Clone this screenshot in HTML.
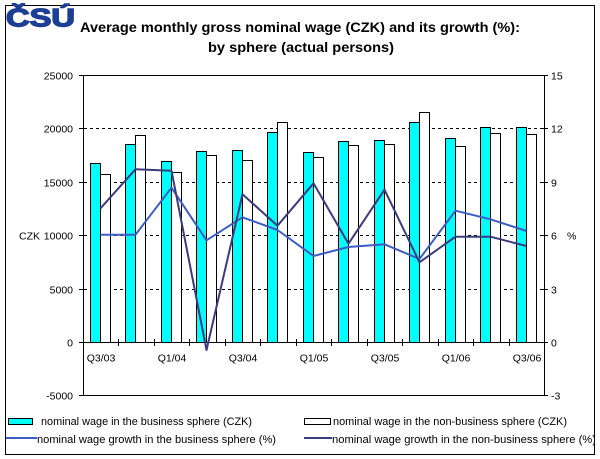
<!DOCTYPE html>
<html><head><meta charset="utf-8"><style>
html,body{margin:0;padding:0;background:#fff;}
svg{display:block;}
text{font-family:"Liberation Sans",Arial,sans-serif;}
</style></head><body>
<svg width="600" height="459" viewBox="0 0 600 459" xmlns="http://www.w3.org/2000/svg">
<rect x="0" y="0" width="600" height="459" fill="#fff"/>
<rect x="5.5" y="5.5" width="589" height="449" fill="none" stroke="#000" stroke-width="1"/>
<!-- logo -->
<text x="6" y="26.5" font-size="25" font-weight="bold" fill="#1c3f94" stroke="#1c3f94" stroke-width="1.4" textLength="69" lengthAdjust="spacingAndGlyphs">ČSÚ</text>
<!-- title -->
<text x="300" y="32" font-size="14" font-weight="bold" text-anchor="middle" textLength="440" lengthAdjust="spacingAndGlyphs">Average monthly gross nominal wage (CZK) and its growth (%):</text>
<text x="301" y="52" font-size="14" font-weight="bold" text-anchor="middle" textLength="186" lengthAdjust="spacingAndGlyphs">by sphere (actual persons)</text>
<!-- grid -->
<g stroke="#000" stroke-width="1" stroke-dasharray="3,3">
<line x1="84" y1="128.5" x2="544" y2="128.5"/>
<line x1="84" y1="182.5" x2="544" y2="182.5"/>
<line x1="84" y1="235.5" x2="544" y2="235.5"/>
<line x1="84" y1="289.5" x2="544" y2="289.5"/>
</g>
<!-- bars -->
<g stroke="#000" stroke-width="1">
<rect x="90.5" y="163.5" width="10" height="179" fill="#00ffff"/>
<rect x="100.5" y="174.5" width="10" height="168" fill="#fff"/>
<rect x="125.5" y="144.5" width="10" height="198" fill="#00ffff"/>
<rect x="135.5" y="135.5" width="10" height="207" fill="#fff"/>
<rect x="161.5" y="161.5" width="10" height="181" fill="#00ffff"/>
<rect x="171.5" y="172.5" width="10" height="170" fill="#fff"/>
<rect x="196.5" y="151.5" width="10" height="191" fill="#00ffff"/>
<rect x="206.5" y="155.5" width="10" height="187" fill="#fff"/>
<rect x="232.5" y="150.5" width="10" height="192" fill="#00ffff"/>
<rect x="242.5" y="160.5" width="10" height="182" fill="#fff"/>
<rect x="267.5" y="132.5" width="10" height="210" fill="#00ffff"/>
<rect x="277.5" y="122.5" width="10" height="220" fill="#fff"/>
<rect x="303.5" y="152.5" width="10" height="190" fill="#00ffff"/>
<rect x="313.5" y="157.5" width="10" height="185" fill="#fff"/>
<rect x="338.5" y="141.5" width="10" height="201" fill="#00ffff"/>
<rect x="348.5" y="145.5" width="10" height="197" fill="#fff"/>
<rect x="374.5" y="140.5" width="10" height="202" fill="#00ffff"/>
<rect x="384.5" y="144.5" width="10" height="198" fill="#fff"/>
<rect x="409.5" y="122.5" width="10" height="220" fill="#00ffff"/>
<rect x="419.5" y="112.5" width="10" height="230" fill="#fff"/>
<rect x="445.5" y="138.5" width="10" height="204" fill="#00ffff"/>
<rect x="455.5" y="146.5" width="10" height="196" fill="#fff"/>
<rect x="480.5" y="127.5" width="10" height="215" fill="#00ffff"/>
<rect x="490.5" y="133.5" width="10" height="209" fill="#fff"/>
<rect x="516.5" y="127.5" width="10" height="215" fill="#00ffff"/>
<rect x="526.5" y="134.5" width="10" height="208" fill="#fff"/>
</g>
<!-- axes -->
<g stroke="#000" stroke-width="1" fill="none">
<line x1="83.5" y1="75.5" x2="544.5" y2="75.5"/>
<line x1="83.5" y1="75" x2="83.5" y2="396"/>
<line x1="544.5" y1="75" x2="544.5" y2="396"/>
<line x1="83.5" y1="395.5" x2="544.5" y2="395.5"/>
<line x1="83" y1="342.5" x2="545" y2="342.5"/>
<line x1="79" y1="75.5" x2="84" y2="75.5"/>
<line x1="79" y1="128.5" x2="84" y2="128.5"/>
<line x1="79" y1="182.5" x2="84" y2="182.5"/>
<line x1="79" y1="235.5" x2="84" y2="235.5"/>
<line x1="79" y1="289.5" x2="84" y2="289.5"/>
<line x1="79" y1="342.5" x2="84" y2="342.5"/>
<line x1="79" y1="395.5" x2="84" y2="395.5"/>
<line x1="540" y1="75.5" x2="548" y2="75.5"/>
<line x1="540" y1="128.5" x2="548" y2="128.5"/>
<line x1="540" y1="182.5" x2="548" y2="182.5"/>
<line x1="540" y1="235.5" x2="548" y2="235.5"/>
<line x1="540" y1="289.5" x2="548" y2="289.5"/>
<line x1="540" y1="342.5" x2="548" y2="342.5"/>
<line x1="540" y1="395.5" x2="548" y2="395.5"/>
<line x1="118.5" y1="339" x2="118.5" y2="346"/>
<line x1="154.5" y1="339" x2="154.5" y2="346"/>
<line x1="189.5" y1="339" x2="189.5" y2="346"/>
<line x1="225.5" y1="339" x2="225.5" y2="346"/>
<line x1="260.5" y1="339" x2="260.5" y2="346"/>
<line x1="296.5" y1="339" x2="296.5" y2="346"/>
<line x1="331.5" y1="339" x2="331.5" y2="346"/>
<line x1="367.5" y1="339" x2="367.5" y2="346"/>
<line x1="402.5" y1="339" x2="402.5" y2="346"/>
<line x1="438.5" y1="339" x2="438.5" y2="346"/>
<line x1="473.5" y1="339" x2="473.5" y2="346"/>
<line x1="509.5" y1="339" x2="509.5" y2="346"/>
</g>
<!-- lines -->
<polyline fill="none" stroke="#3d5cc4" stroke-width="2" stroke-linejoin="round" points="100.5,234.7 135.5,234.7 171.5,187.7 206.5,240.3 242.5,217.3 277.5,230 313.5,256 348.5,247 384.5,244.3 419.5,259 455.5,210.7 490.5,219.3 526.5,231"/>
<polyline fill="none" stroke="#3b3b7d" stroke-width="2" stroke-linejoin="round" points="100.5,208.3 135.5,169.3 171.5,170.7 206.5,350 242.5,194.3 277.5,225.7 313.5,183.3 348.5,243.7 384.5,189.7 419.5,262.3 455.5,236.7 490.5,236.7 526.5,246"/>
<!-- left labels -->
<g font-size="10.5" text-anchor="end" fill="#000">
<text x="73" y="79.5">25000</text>
<text x="73" y="132.5">20000</text>
<text x="73" y="186.5">15000</text>
<text x="73" y="239.5">10000</text>
<text x="73" y="293.5">5000</text>
<text x="73" y="346.5">0</text>
<text x="73" y="399.5">-5000</text>
</g>
<text x="19" y="239.5" font-size="10.5">CZK</text>
<!-- right labels -->
<g font-size="10.5" fill="#000">
<text x="551" y="79.5">15</text>
<text x="551" y="132.5">12</text>
<text x="551" y="186.5">9</text>
<text x="551" y="239.5">6</text>
<text x="551" y="293.5">3</text>
<text x="551" y="346.5">0</text>
<text x="551" y="399.5">-3</text>
<text x="567" y="239.5">%</text>
</g>
<!-- category labels -->
<g font-size="10.5" text-anchor="middle" fill="#000">
<text x="101" y="361.5">Q3/03</text>
<text x="172" y="361.5">Q1/04</text>
<text x="243" y="361.5">Q3/04</text>
<text x="314" y="361.5">Q1/05</text>
<text x="385" y="361.5">Q3/05</text>
<text x="456" y="361.5">Q1/06</text>
<text x="527" y="361.5">Q3/06</text>
</g>
<!-- legend -->
<rect x="8.5" y="418.5" width="24" height="6" fill="#00ffff" stroke="#000" stroke-width="1"/>
<text x="41" y="425" font-size="11" textLength="211" lengthAdjust="spacingAndGlyphs">nominal wage in the business sphere (CZK)</text>
<line x1="6" y1="438" x2="37" y2="438" stroke="#3d5cc4" stroke-width="2"/>
<text x="37" y="443" font-size="11" textLength="239" lengthAdjust="spacingAndGlyphs">nominal wage growth in the business sphere (%)</text>
<rect x="304.5" y="418.5" width="26" height="6" fill="#fff" stroke="#000" stroke-width="1"/>
<text x="333" y="425" font-size="11" textLength="234" lengthAdjust="spacingAndGlyphs">nominal wage in the non-business sphere (CZK)</text>
<line x1="304" y1="438" x2="332" y2="438" stroke="#3b3b7d" stroke-width="2"/>
<text x="332" y="443" font-size="11" textLength="264" lengthAdjust="spacingAndGlyphs">nominal wage growth in the non-business sphere (%)</text>
<rect x="595" y="0" width="5" height="459" fill="#fff"/>
<line x1="594.5" y1="5" x2="594.5" y2="455" stroke="#000" stroke-width="1"/>
</svg>
</body></html>
